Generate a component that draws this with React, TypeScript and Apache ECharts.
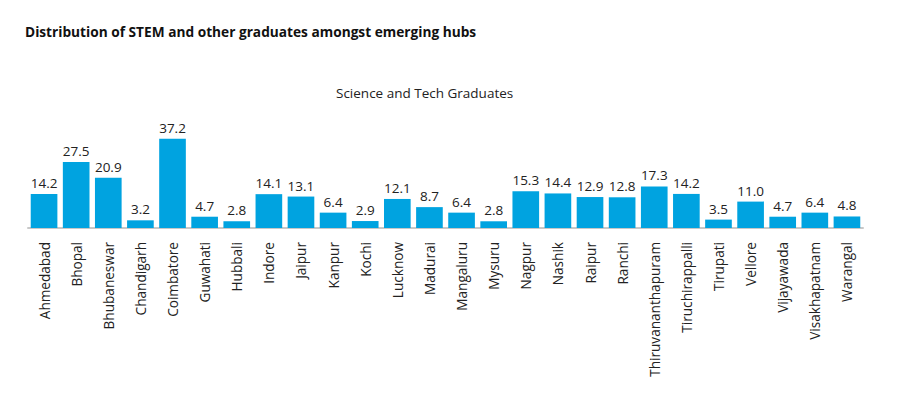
import React, { useEffect, useRef } from "react";
import * as echarts from "echarts";

const categories = [
  "Ahmedabad", "Bhopal", "Bhubaneswar", "Chandigarh", "Coimbatore", "Guwahati",
  "Hubbali", "Indore", "Jaipur", "Kanpur", "Kochi", "Lucknow", "Madurai",
  "Mangaluru", "Mysuru", "Nagpur", "Nashik", "Raipur", "Ranchi",
  "Thiruvananthapuram", "Tiruchirappalli", "Tirupati", "Vellore", "Vijayawada",
  "Visakhapatnam", "Warangal",
];

const values = [
  14.2, 27.5, 20.9, 3.2, 37.2, 4.7, 2.8, 14.1, 13.1, 6.4, 2.9, 12.1, 8.7,
  6.4, 2.8, 15.3, 14.4, 12.9, 12.8, 17.3, 14.2, 3.5, 11.0, 4.7, 6.4, 4.8,
];

const titleText = "Distribution of STEM and other graduates amongst emerging hubs";
const subtitleText = "Science and Tech Graduates";

export default function App() {
  const ref = useRef<HTMLDivElement>(null);
  useEffect(() => {
    if (!ref.current) return;
    const chart = echarts.init(ref.current, undefined, { renderer: "svg" });
    const font = "'Open Sans', 'Noto Sans', sans-serif";
    chart.setOption({
      animation: false,
      backgroundColor: "#ffffff",
      textStyle: { fontFamily: font },
      title: [
        {
          text: titleText,
          left: 25,
          top: 24,
          padding: 0,
          textStyle: { fontFamily: font, fontSize: 13.7, fontWeight: "bold", color: "#111111" },
        },
        {
          text: subtitleText,
          left: 336,
          top: 86,
          padding: 0,
          textStyle: { fontFamily: font, fontSize: 13.5, fontWeight: "normal", color: "#222222" },
        },
      ],
      grid: { left: 28, right: 37, top: 132, bottom: 175, containLabel: false },
      xAxis: {
        type: "category",
        data: categories,
        axisLine: { show: true, lineStyle: { color: "#c8c8c8", width: 2 } },
        axisTick: { show: false },
        axisLabel: {
          rotate: 90,
          interval: 0,
          margin: 14,
          fontFamily: font,
          fontSize: 13.6,
          color: "#222222",
        },
      },
      yAxis: {
        type: "value",
        min: 0,
        max: 40,
        show: false,
        splitLine: { show: false },
      },
      series: [
        {
          type: "bar",
          data: values,
          barCategoryGap: "17%",
          itemStyle: { color: "#00a3e0" },
          label: {
            show: true,
            position: "top",
            distance: 4,
            fontFamily: font,
            fontSize: 13.5,
            color: "#222222",
            formatter: (p: any) => Number(p.value).toFixed(1),
          },
        },
      ],
    });
    return () => chart.dispose();
  }, []);
  return (
    <div
      ref={ref}
      style={{ position: "fixed", left: 0, top: 0, width: 900, height: 403 }}
    />
  );
}
